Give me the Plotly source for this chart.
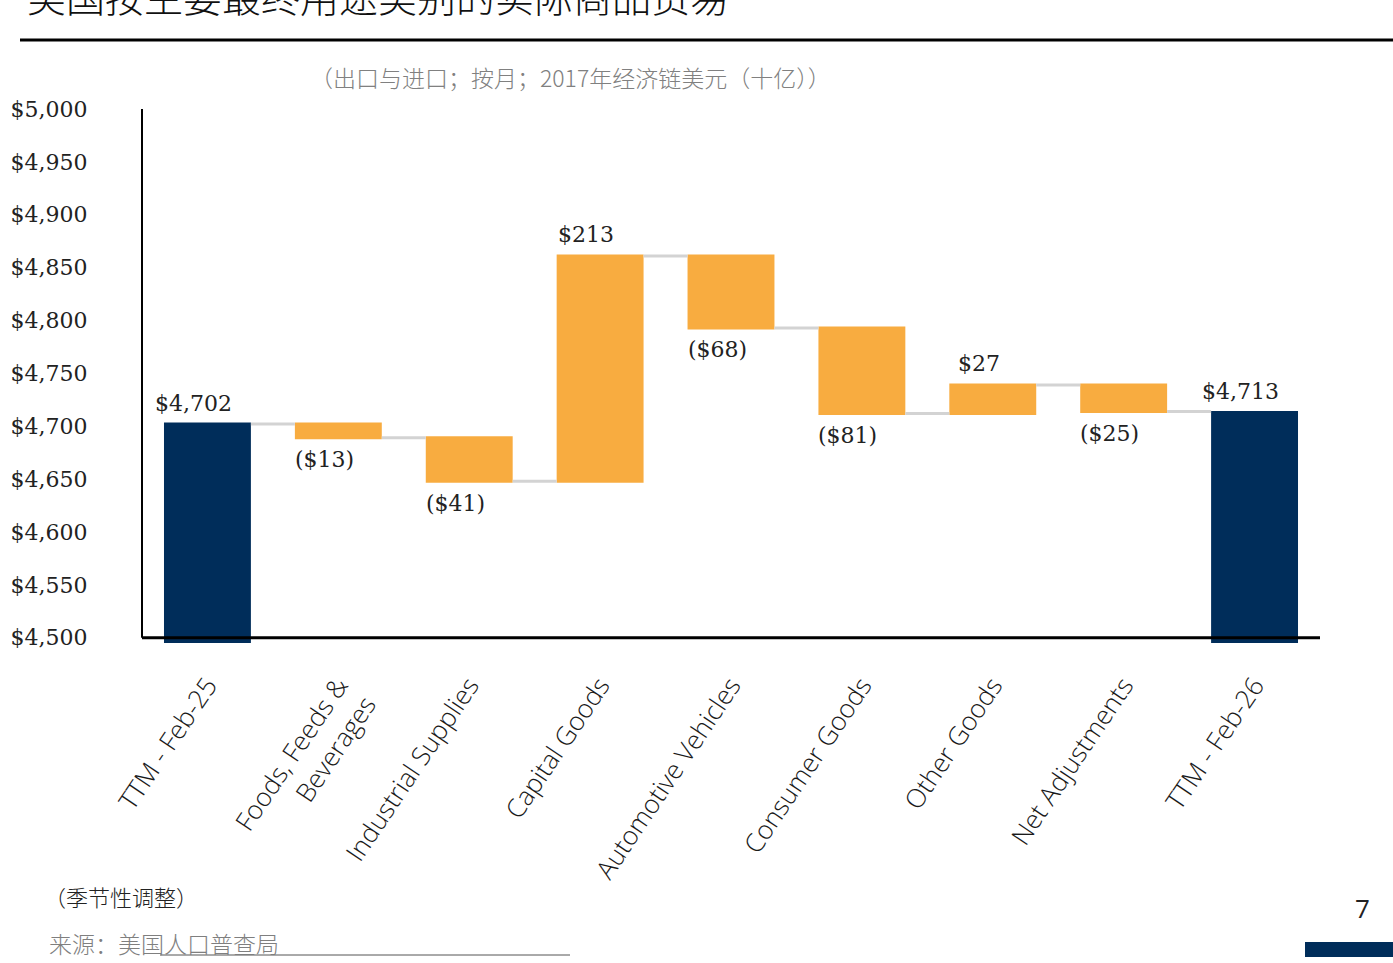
import plotly.graph_objects as go

categories = ["TTM - Feb-25", "Foods, Feeds &<br>Beverages", "Industrial Supplies", "Capital Goods",
              "Automotive Vehicles", "Consumer Goods", "Other Goods", "Net Adjustments", "TTM - Feb-26"]
values = [4702, -13, -41, 213, -68, -81, 27, -25, 4713]
measures = ["absolute", "relative", "relative", "relative", "relative", "relative", "relative", "relative", "absolute"]

title_text = "美国按主要最终用途类别的实际商品贸易"
subtitle_text = "（出口与进口；按月；2017年经济链美元（十亿））"
note_text = "（季节性调整）"
source_text = "来源：美国人口普查局"
page_number = "7"

ORANGE = "#F8AC40"
NAVY = "#002D5A"

def fmt(v):
    return f"(${abs(v):,})" if v < 0 else f"${v:,}"

W, H = 1393, 963
L, R, T, B = 142, 1320, 109, 643

def px(p):
    return (p - L) / (R - L)

def py(p):
    return (B - p) / (B - T)

fig = go.Figure(go.Waterfall(
    x=categories,
    y=values,
    measure=measures,
    width=0.664,
    increasing=dict(marker=dict(color=ORANGE)),
    decreasing=dict(marker=dict(color=ORANGE)),
    totals=dict(marker=dict(color=NAVY)),
    connector=dict(line=dict(color="#D3D3D3", width=3)),
    hoverinfo="skip",
))

# value labels placed at the end of each bar
annotations = []
running = 0
for cat, v, m in zip(categories, values, measures):
    if m == "absolute":
        running = v
        end = v
        up = True
    else:
        running += v
        end = running
        up = v >= 0
    annotations.append(dict(
        x=cat, y=end, xref="x", yref="y", text=fmt(v), showarrow=False,
        xanchor="center", yanchor="middle", xshift=-14, yshift=21 if up else -22,
        font=dict(family="DejaVu Serif", size=22, color="#222222"),
    ))

fig.update_layout(
    width=W, height=H,
    margin=dict(l=L, r=W - R, t=T, b=H - B, autoexpand=False),
    paper_bgcolor="white", plot_bgcolor="white",
    showlegend=False,
    xaxis=dict(
        range=[-0.5, 8.5], showgrid=False, zeroline=False, showline=False,
        tickangle=-56, ticks="outside", ticklen=16, tickcolor="rgba(0,0,0,0)",
        tickfont=dict(family="Open Sans", size=26, color="#1A1A1A", weight=300),
    ),
    yaxis=dict(
        range=[4495, 5000], showgrid=False, zeroline=False, showline=False,
        tick0=4500, dtick=50, tickprefix="$", tickformat=",d",
        ticks="outside", ticklen=49, tickcolor="rgba(0,0,0,0)",
        tickfont=dict(family="DejaVu Serif", size=22, color="#222222"),
    ),
    shapes=[
        dict(type="line", xref="paper", yref="y", x0=0, x1=0, y0=4500, y1=5000,
             line=dict(color="black", width=2)),
        dict(type="line", xref="paper", yref="y", x0=0, x1=1, y0=4500, y1=4500,
             line=dict(color="black", width=3)),
        dict(type="line", xref="paper", yref="paper", x0=px(20), x1=px(1393), y0=py(40), y1=py(40),
             line=dict(color="black", width=3)),
        dict(type="line", xref="paper", yref="paper", x0=px(160), x1=px(570), y0=py(955), y1=py(955),
             line=dict(color="#555555", width=1)),
        dict(type="rect", xref="paper", yref="paper", x0=px(1305), x1=px(1393), y0=py(957), y1=py(942),
             fillcolor=NAVY, line=dict(width=0)),
    ],
    annotations=annotations + [
        dict(text=title_text, xref="paper", yref="paper", x=px(25), y=py(-5), xanchor="left", yanchor="middle",
             showarrow=False, font=dict(family="Noto Sans CJK SC", size=39, color="#111111", weight=300)),
        dict(text=subtitle_text, xref="paper", yref="paper", x=px(570), y=py(77), xanchor="center", yanchor="middle",
             showarrow=False, font=dict(family="Noto Sans CJK SC", size=23, color="#808080", weight=300)),
        dict(text=note_text, xref="paper", yref="paper", x=px(42), y=py(896), xanchor="left", yanchor="middle",
             showarrow=False, font=dict(family="Noto Sans CJK SC", size=22, color="#222222", weight=300)),
        dict(text=source_text, xref="paper", yref="paper", x=px(47), y=py(943), xanchor="left", yanchor="middle",
             showarrow=False, font=dict(family="Noto Sans CJK SC", size=23, color="#7F7F7F", weight=300)),
        dict(text=page_number, xref="paper", yref="paper", x=px(1362), y=py(908), xanchor="center", yanchor="middle",
             showarrow=False, font=dict(family="Open Sans", size=26, color="#222222")),
    ],
)

fig.write_html("out.html")
